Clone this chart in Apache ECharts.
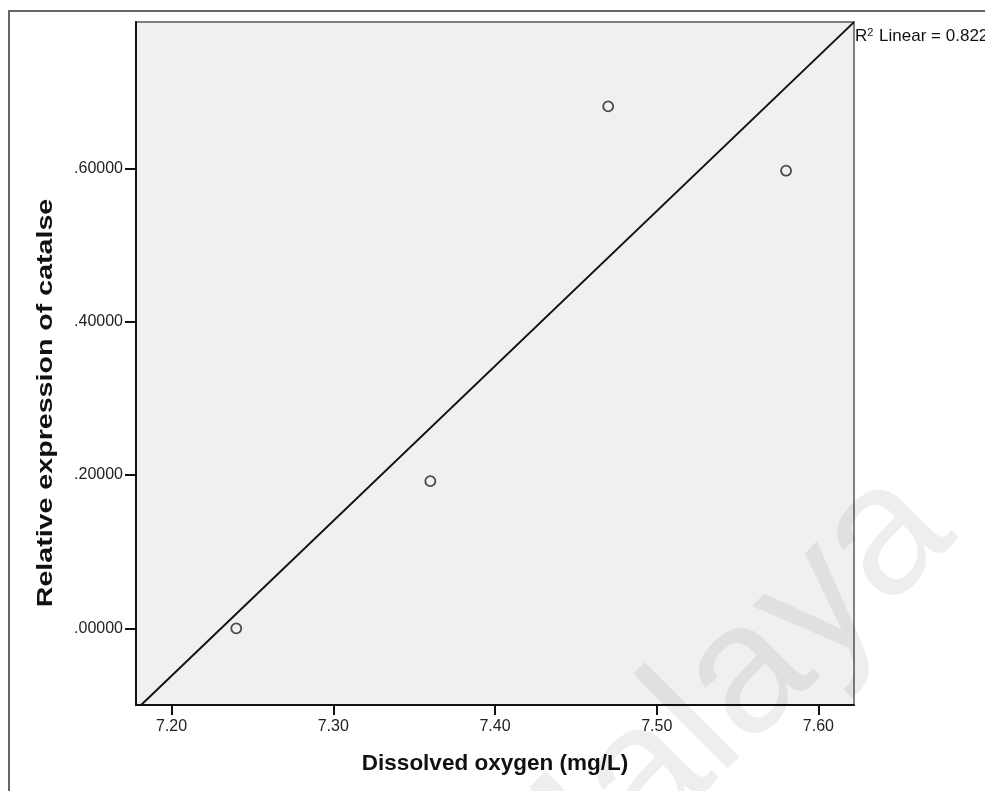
<!DOCTYPE html>
<html>
<head>
<meta charset="utf-8">
<script src="https://cdn.jsdelivr.net/npm/echarts@6/dist/echarts.min.js"></script>
<style>
html,body{margin:0;padding:0;background:#fff;}
#chart{width:985px;height:791px;}
</style>
</head>
<body>
<div id="chart"></div>
<script>
// Data
const dissolvedOxygen = [7.24, 7.36, 7.47, 7.58];
const catalaseExpression = [0.000, 0.192, 0.681, 0.597];
const xTickValues = [7.20, 7.30, 7.40, 7.50, 7.60];
const yTickValues = [0.0, 0.2, 0.4, 0.6];
const xRange = [7.178, 7.622];
const yRange = [-0.100, 0.791];
const xTitle = 'Dissolved oxygen (mg/L)';
const yTitle = 'Relative expression of catalse';
const fitLabel = 'Linear = 0.822';
const watermark = 'Malaya';

// Least-squares fit computed from the data
const n = dissolvedOxygen.length;
const mx = dissolvedOxygen.reduce((a, b) => a + b, 0) / n;
const my = catalaseExpression.reduce((a, b) => a + b, 0) / n;
let sxy = 0, sxx = 0;
for (let i = 0; i < n; i++) {
  sxy += (dissolvedOxygen[i] - mx) * (catalaseExpression[i] - my);
  sxx += (dissolvedOxygen[i] - mx) ** 2;
}
const slope = sxy / sxx;
const intercept = my - slope * mx;
const fitLine = xRange.map(x => [x, intercept + slope * x]);

const chart = echarts.init(document.getElementById('chart'), null, {renderer: 'canvas'});
const font = 'Liberation Sans';
chart.setOption({
  animation: false,
  backgroundColor: '#ffffff',
  grid: {left: 136, top: 22, right: 131, bottom: 86, show: true, backgroundColor: '#f0f0f0', borderColor: '#808080', borderWidth: 2},
  xAxis: {
    type: 'value', min: xRange[0], max: xRange[1],
    name: xTitle, nameLocation: 'middle', nameGap: 47,
    nameTextStyle: {fontFamily: font, fontWeight: 'bold', fontSize: 22.5, color: '#111'},
    axisLine: {show: true, onZero: false, lineStyle: {color: '#111', width: 2}},
    axisTick: {show: true, inside: false, length: 10, customValues: xTickValues, lineStyle: {color: '#111', width: 2}},
    axisLabel: {customValues: xTickValues, formatter: v => v.toFixed(2), fontFamily: font, fontSize: 16, color: '#222', margin: 14},
    splitLine: {show: false}
  },
  yAxis: {
    type: 'value', min: yRange[0], max: yRange[1],
    axisLine: {show: true, onZero: false, lineStyle: {color: '#111', width: 2}},
    axisTick: {show: true, inside: false, length: 11, customValues: yTickValues, lineStyle: {color: '#111', width: 2}},
    axisLabel: {customValues: yTickValues, formatter: v => v.toFixed(5).replace(/^0/, ''), fontFamily: font, fontSize: 16, color: '#222', margin: 13},
    splitLine: {show: false}
  },
  graphic: [
    {type: 'polyline', silent: true, shape: {points: [[9, 791], [9, 11], [985, 11]]}, style: {stroke: '#666', lineWidth: 2, fill: null}},
    {type: 'text', silent: true, x: 46, y: 403, rotation: Math.PI / 2, scaleX: 1.3, scaleY: 1,
     style: {text: yTitle, fontFamily: font, fontWeight: 'bold', fontSize: 22, fill: '#111', align: 'center', verticalAlign: 'middle'}},
    {type: 'text', silent: true, z: 100, x: 712, y: 712, rotation: Math.PI / 4,
     style: {text: watermark, fontFamily: font, fontSize: 185, fill: 'rgba(0,0,0,0.065)', align: 'center', verticalAlign: 'middle'}},
    {type: 'text', silent: true, x: 855, y: 27,
     style: {rich: {r: {fontSize: 17, fontFamily: font, fill: '#111'}, s: {fontSize: 11, fontFamily: font, fill: '#111', verticalAlign: 'top', padding: [0, 1, 8, 0]}},
             text: '{r|R}{s|2}{r| ' + fitLabel + '}', verticalAlign: 'top'}}
  ],
  series: [
    {type: 'line', data: fitLine, symbol: 'none', clip: true, lineStyle: {color: '#111', width: 2}, z: 2},
    {type: 'scatter', data: dissolvedOxygen.map((x, i) => [x, catalaseExpression[i]]), symbol: 'circle', symbolSize: 10,
     itemStyle: {color: 'rgba(0,0,0,0)', borderColor: '#222', borderWidth: 1.8}, z: 3}
  ]
});
</script>
</body>
</html>
